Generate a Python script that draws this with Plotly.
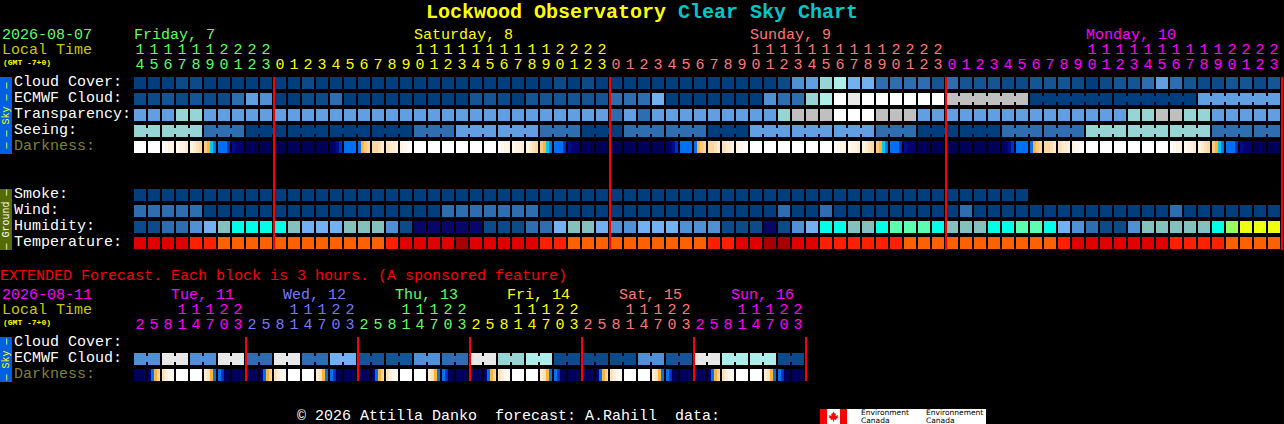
import plotly.graph_objects as go

W, H = 1284, 424
FONT = "Liberation Mono"

# colour classes used by every block row
PALETTE = ["#003E7E", "#0C4A8A", "#155596", "#2E6DB0", "#5090D5", "#629FE2", "#72B0F2",
           "#84C0BE", "#96D5D3", "#AEEEEA", "#C0C0C0", "#E8E8E8", "#FFFFFF", "#07076A",
           "#00FFE8", "#5CFFB0", "#98FF60", "#EEFF10", "#A80000", "#E00000", "#FF2000", "#FF6000"]
# darkness shades, one letter each
DARK_SHADES = {"W": "#FFFFFF", "a": "#FFF9F0", "b": "#FFF3E2", "c": "#FFEBD0", "d": "#FFE0B8",
               "e": "#FFD69E", "f": "#FFC878", "g": "#FFB23C", "C": "#00C8FF", "B": "#0070F0",
               "M": "#0030C0", "X": "#000C90", "n": "#000070", "o": "#000058"}

HOURS = [14, 15, 16, 17, 18, 19, 20, 21, 22, 23,
         0, 1, 2, 3, 4, 5, 6, 7, 8, 9, 10, 11, 12, 13, 14, 15, 16, 17, 18, 19, 20, 21, 22, 23,
         0, 1, 2, 3, 4, 5, 6, 7, 8, 9, 10, 11, 12, 13, 14, 15, 16, 17, 18, 19, 20, 21, 22, 23,
         0, 1, 2, 3, 4, 5, 6, 7, 8, 9, 10, 11, 12, 13, 14, 15, 16, 17, 18, 19, 20, 21, 22, 23]
DAY_NAMES = ["Friday, 7", "Saturday, 8", "Sunday, 9", "Monday, 10"]
DAY_COLOURS = ["#60FF60", "#FFFF00", "#FF7878", "#FF00FF"]
DAY_STARTS = [0, 20, 44, 68]
MIDNIGHTS = [10, 34, 58, 82]

CLOUD = [0, 0, 0, 1, 1, 0, 0, 0, 0, 0,
         0, 0, 1, 0, 0, 0, 0, 0, 0, 0,
         0, 0, 0, 0, 0, 0, 0, 0, 0, 0,
         1, 0, 1, 0, 0, 0, 0, 0, 0, 0,
         0, 0, 0, 0, 0, 0, 1, 4, 5, 8,
         9, 6, 6, 3, 3, 3, 3, 2, 3, 2,
         2, 2, 1, 1, 2, 2, 2, 1, 0, 1,
         2, 2, 3, 5, 3, 2, 1, 1, 2, 2,
         1, 2]
ECMWF = [1, 1, 2, 1, 2, 1, 1, 3, 5, 4,
         0, 0, 1, 1, 3, 0, 0, 0, 0, 0,
         0, 0, 0, 0, 2, 2, 1, 0, 2, 2,
         2, 2, 2, 2, 3, 3, 3, 6, 0, 0,
         0, 0, 0, 0, 0, 4, 3, 3, 8, 9,
         12, 11, 12, 12, 12, 12, 12, 12, 10, 10,
         10, 10, 10, 10, 0, 0, 0, 0, 0, 0,
         0, 0, 0, 0, 0, 0, 5, 5, 5, 5,
         5, 5]
TRANSPARENCY = [5, 5, 5, 8, 8, 5, 5, 5, 5, 5,
                5, 5, 5, 5, 5, 5, 5, 5, 5, 5,
                5, 5, 5, 5, 5, 5, 5, 5, 5, 5,
                5, 5, 5, 5, 3, 5, 3, 5, 5, 5,
                5, 5, 5, 5, 5, 5, 8, 10, 10, 10,
                12, 12, 12, 10, 10, 10, 5, 5, 5, 5,
                5, 5, 5, 5, 5, 5, 5, 5, 5, 5,
                5, 8, 8, 10, 10, 8, 8, 5, 5, 5,
                5, 5]
SEEING = [8, 8, 8, 8, 8, 3, 3, 3, 0, 0,
          0, 0, 0, 0, 0, 0, 0, 0, 0, 0,
          3, 3, 3, 5, 5, 5, 5, 5, 5, 3,
          3, 3, 0, 0, 0, 3, 3, 3, 3, 3,
          3, 0, 0, 0, 5, 5, 5, 5, 5, 5,
          5, 5, 5, 3, 3, 3, 0, 0, 0, 0,
          0, 0, 3, 3, 3, 3, 3, 3, 8, 8,
          8, 8, 8, 8, 8, 8, 8, 3, 3, 3,
          3, 3]
DARKNESS = ["WWWW", "WWWW", "Wabb", "abbc", "bcde", "fgCB", "BBBM", "Xnnn", "oooo", "oooo",
            "oooo", "oooo", "oooo", "oooo", "nnXM", "BBBB", "Bgfe", "eedc", "dccb", "baaW",
            "WWWW", "WWWW", "WWWW", "WWWW", "WWWW", "WWWW", "Wabb", "abbc", "bcde", "fgCB",
            "BBBM", "Xnnn", "oooo", "oooo", "oooo", "oooo", "oooo", "oooo", "nnXM", "BBBB",
            "Bgfe", "eedc", "dccb", "baaW", "WWWW", "WWWW", "WWWW", "WWWW", "WWWW", "WWWW",
            "Wabb", "abbc", "bcde", "fgCB", "BBBM", "Xnnn", "oooo", "oooo", "oooo", "oooo",
            "oooo", "oooo", "nnXM", "BBBB", "Bgfe", "eedc", "dccb", "baaW", "WWWW", "WWWW",
            "WWWW", "WWWW", "WWWW", "WWWW", "Wabb", "abbc", "bcde", "fgCB", "BBBM", "Xnnn",
            "oooo", "oooo"]
SMOKE = [0, 0, 0, 0, 0, 0, 0, 0, 0, 0,
         0, 0, 0, 0, 0, 0, 0, 0, 0, 0,
         0, 0, 0, 0, 0, 0, 0, 0, 0, 0,
         0, 0, 0, 0, 0, 0, 0, 0, 0, 0,
         0, 0, 0, 0, 0, 0, 0, 0, 0, 0,
         0, 0, 0, 0, 0, 0, 0, 0, 0, 0,
         0, 0, 0, 0, None, None, None, None, None, None,
         None, None, None, None, None, None, None, None, None, None,
         None, None]
WIND = [3, 3, 3, 3, 3, 0, 0, 0, 0, 0,
        0, 0, 0, 0, 0, 0, 0, 0, 0, 0,
        0, 0, 3, 3, 3, 3, 3, 3, 3, 0,
        0, 0, 0, 0, 0, 0, 0, 0, 0, 0,
        0, 0, 0, 0, 0, 0, 3, 0, 0, 3,
        0, 0, 0, 0, 0, 0, 0, 0, 0, 3,
        0, 0, 0, 0, 0, 0, 0, 0, 0, 0,
        0, 0, 0, 0, 3, 0, 0, 0, 0, 0,
        0, 0]
HUMIDITY = [1, 1, 3, 3, 4, 6, 7, 14, 14, 14,
            14, 7, 6, 6, 6, 7, 7, 7, 4, 1,
            13, 13, 13, 13, 13, 1, 1, 1, 3, 3,
            6, 7, 7, 6, 4, 4, 6, 6, 6, 4,
            4, 4, 1, 1, 1, 13, 1, 4, 6, 14,
            14, 7, 7, 14, 15, 15, 15, 14, 7, 7,
            7, 14, 14, 15, 15, 14, 6, 4, 3, 1,
            1, 4, 7, 7, 7, 7, 7, 14, 16, 17,
            17, 17]
TEMPERATURE = [19, 19, 19, 19, 20, 20, 21, 21, 21, 21,
               21, 21, 21, 21, 21, 21, 21, 21, 20, 19,
               19, 19, 19, 18, 19, 19, 19, 19, 19, 20,
               20, 21, 21, 21, 21, 21, 21, 21, 21, 21,
               21, 20, 20, 19, 19, 18, 18, 19, 19, 20,
               20, 20, 20, 20, 20, 21, 21, 21, 21, 21,
               21, 21, 21, 21, 21, 21, 20, 19, 19, 19,
               19, 19, 19, 19, 20, 20, 20, 20, 21, 21,
               21, 21]

SKY_LABELS = ["Cloud Cover:", "ECMWF Cloud:", "Transparency:", "Seeing:"]
GROUND_LABELS = ["Smoke:", "Wind:", "Humidity:", "Temperature:"]

# extended forecast, 3 hour blocks
EXT_HOURS = [2, 5, 8, 11, 14, 17, 20, 23] * 6
EXT_DAYS = ["Tue, 11", "Wed, 12", "Thu, 13", "Fri, 14", "Sat, 15", "Sun, 16"]
EXT_COLOURS = ["#FF00FF", "#7878FF", "#60FF60", "#FFFF00", "#FF7878", "#FF00FF"]
EXT_ECMWF = [4, 4, 11, 11, 4, 4, 11, 11,
             3, 3, 11, 11, 3, 3, 6, 6,
             2, 2, 2, 2, 4, 4, 3, 3,
             11, 11, 8, 8, 9, 9, 1, 1,
             1, 1, 1, 1, 4, 4, 2, 2,
             11, 11, 9, 9, 9, 9, 1, 1]
EXT_DARKNESS = ["oooo", "nBge", "dbaW", "WWWW", "WWWW", "cdgB", "BMoo", "oooo",
                "oooo", "nBge", "dbaW", "WWWW", "WWWW", "cdgB", "BMoo", "oooo",
                "oooo", "nBge", "dbaW", "WWWW", "WWWW", "cdgB", "BMoo", "oooo",
                "oooo", "nBge", "dbaW", "WWWW", "WWWW", "cdgB", "BMoo", "oooo",
                "oooo", "nBge", "dbaW", "WWWW", "WWWW", "cdgB", "BMoo", "oooo",
                "oooo", "nBge", "dbaW", "WWWW", "WWWW", "cdgB", "BMoo", "oooo"]

# palette + darkness shades share one colour scale
all_colours = PALETTE + list(DARK_SHADES.values())
shade_index = {k: len(PALETTE) + n for n, k in enumerate(DARK_SHADES)}
zmax = len(all_colours) - 1
scale = [[n / zmax, c] for n, c in enumerate(all_colours)]
PAD = 1 / 14  # half of the 2px gap between blocks, in column units


def blocks(rows, edges, xaxis="x"):
    return go.Heatmap(z=rows, x=list(range(len(rows[0]) + 1)), y=edges, xgap=2, ygap=4,
                      zmin=0, zmax=zmax, colorscale=scale, showscale=False,
                      hoverinfo="skip", xaxis=xaxis, yaxis="y")


def shaded(cells, top, xaxis="x"):
    # each cell is split in 4 slices with an empty slice after it for the gap
    xs, vals = [], []
    for i, cell in enumerate(cells):
        for k, ch in enumerate(cell):
            xs.append(i + PAD + k * 3 / 14)
            vals.append(shade_index[ch])
        xs.append(i + 13 / 14)
        vals.append(None)
    xs.append(len(cells) + PAD)
    return go.Heatmap(z=[vals], x=xs, y=[top, top + 12], zmin=0, zmax=zmax, colorscale=scale,
                      showscale=False, hoverinfo="skip", xaxis=xaxis, yaxis="y")


def bridges(values, sizes, centre, start=0, xaxis="x"):
    # narrow joins between blocks that belong to the same forecast period
    out = []
    segs = {}
    col = start
    for size in sizes:
        for c in range(col, col + size - 1):
            segs.setdefault(values[c], []).append(c)
        col += size
    for v, cols in segs.items():
        xs, ys = [], []
        for c in cols:
            xs += [c + 13 / 14, c + 1 + PAD, None]
            ys += [centre, centre, None]
        out.append(go.Scatter(x=xs, y=ys, mode="lines", line=dict(color=all_colours[v], width=6),
                              hoverinfo="skip", xaxis=xaxis, yaxis="y"))
    return out


def red_lines(cols, y0, y1, xaxis="x"):
    xs, ys = [], []
    for c in cols:
        xs += [c + PAD, c + PAD, None]
        ys += [y0, y1, None]
    return go.Scatter(x=xs, y=ys, mode="lines", line=dict(color="#FF0000", width=2), cliponaxis=False,
                      hoverinfo="skip", xaxis=xaxis, yaxis="y")


def digits(labels, colours, y, xaxis="x"):
    return go.Scatter(x=[i + 0.5 for i in range(len(labels))], y=[y] * len(labels), mode="text",
                      text=labels, textposition="middle center", cliponaxis=False,
                      textfont=dict(family=FONT, size=15, color=colours),
                      hoverinfo="skip", xaxis=xaxis, yaxis="y")


def label(text, px, y, color="#FFFFFF", size=15, font=FONT, **kw):
    return dict(text=text, x=px / W, xref="paper", y=y, yref="y", xanchor="left", yanchor="middle",
                showarrow=False, borderpad=0, borderwidth=0, font=dict(family=font, size=size, color=color), **kw)


def side_bar(y0, y1, fill):
    return dict(type="rect", xref="paper", yref="y", x0=0, x1=12 / W, y0=y0, y1=y1,
                fillcolor=fill, line_width=0, layer="below")


def paper_rect(x0, x1, y0, y1, fill):
    return dict(type="rect", xref="paper", yref="y", x0=x0 / W, x1=x1 / W, y0=y0, y1=y1,
                fillcolor=fill, line_width=0)


# day colour changes at midnight, not at the day label
hour_colours = [DAY_COLOURS[sum(1 for m in MIDNIGHTS[:3] if i >= m)] for i in range(len(HOURS))]

ext_colours = []
for c in EXT_COLOURS:
    ext_colours += [c] * 8

fig = go.Figure()
fig.add_trace(blocks([CLOUD, ECMWF, TRANSPARENCY, SEEING], [75, 91, 107, 123, 139]))
fig.add_trace(shaded(DARKNESS, 141))
fig.add_trace(blocks([SMOKE, WIND, HUMIDITY, TEMPERATURE], [187, 203, 219, 235, 251]))
for tr in bridges(SEEING, [2] + [3] * 26 + [2], 131):
    fig.add_trace(tr)
for tr in bridges(ECMWF, [6, 6, 6, 6], 99, start=58):
    fig.add_trace(tr)
fig.add_trace(red_lines(MIDNIGHTS, 77, 250))
fig.add_trace(digits([str(h // 10) if h >= 10 else "" for h in HOURS], hour_colours, 50))
fig.add_trace(digits([str(h % 10) for h in HOURS], hour_colours, 65))

fig.add_trace(blocks([EXT_ECMWF], [351, 367], xaxis="x2"))
fig.add_trace(shaded(EXT_DARKNESS, 369, xaxis="x2"))
for tr in bridges(EXT_ECMWF, [2] * 24, 359, xaxis="x2"):
    fig.add_trace(tr)
fig.add_trace(red_lines([8, 16, 24, 32, 40, 48], 337, 381, xaxis="x2"))
fig.add_trace(digits([str(h // 10) if h >= 10 else "" for h in EXT_HOURS], ext_colours, 310, xaxis="x2"))
fig.add_trace(digits([str(h % 10) for h in EXT_HOURS], ext_colours, 325, xaxis="x2"))

notes = [
    label('<b>Lockwood Observatory <span style="color:#00C8C8">Clear Sky Chart</span></b>', 426, 12, "#FFFF00", 20),
    label("2026-08-07", 2, 35, "#60FF60"),
    label("Local Time", 2, 50, "#C8C800"),
    label("<b>(GMT -7+0)</b>", 3, 62, "#FFFF00", 8),
    label("EXTENDED Forecast. Each block is 3 hours. (A sponsored feature)", 0, 276, "#FF0000"),
    label("2026-08-11", 2, 295, "#FF00FF"),
    label("Local Time", 2, 310, "#C8C800"),
    label("<b>(GMT -7+0)</b>", 3, 322, "#FFFF00", 8),
    label("\u00a9 2026 Attilla Danko  forecast: A.Rahill  data:", 297, 416, "#FFFFFF"),
    label("Cloud Cover:", 14, 342),
    label("ECMWF Cloud:", 14, 358),
    label("Darkness:", 14, 374, "#808030"),
    label("Darkness:", 14, 146, "#808030"),
]
for n, t in enumerate(SKY_LABELS):
    notes.append(label(t, 14, 82 + 16 * n))
for n, t in enumerate(GROUND_LABELS):
    notes.append(label(t, 14, 194 + 16 * n))
for name, col, start in zip(DAY_NAMES, DAY_COLOURS, DAY_STARTS):
    notes.append(label(name, 134 + 14 * start, 35, col))
for d, (name, col) in enumerate(zip(EXT_DAYS, EXT_COLOURS)):
    notes.append(label(name, 171 + 112 * d, 295, col))

# side bars
for text, y, col in [("\u2014 \u2014 Sky \u2014 \u2014", 115.5, "#FFFF00"), ("\u2014 Sky \u2014", 359.5, "#FFFF00"),
                     ("\u2014 Ground \u2014", 219.5, "#FFFFFF")]:
    notes.append(dict(text=text, x=6 / W, xref="paper", xanchor="center", y=y, yref="y", yanchor="middle",
                      textangle=-90, showarrow=False, borderpad=0, borderwidth=0,
                      font=dict(family=FONT, size=10, color=col)))
# logo text
for px, word in [(861, "Environment"), (926, "Environnement")]:
    notes.append(label(word, px, 412.2, "#000000", 7.5, "DejaVu Sans"))
    notes.append(label("Canada", px, 420.8, "#000000", 7.5, "DejaVu Sans"))

leaf = [(0, -5), (1.5, -2.5), (2.5, -3), (2, -0.5), (4.5, -1.5), (4, 0), (5, 0.5), (2.5, 2.5), (2.8, 3.5),
        (0.5, 3), (0.5, 5), (-0.5, 5), (-0.5, 3), (-2.8, 3.5), (-2.5, 2.5), (-5, 0.5), (-4, 0), (-4.5, -1.5),
        (-2, -0.5), (-2.5, -3), (-1.5, -2.5)]
leaf_path = "M " + " L ".join(f"{(833.5 + a) / W} {416.5 + b}" for a, b in leaf) + " Z"

shapes = [
    side_bar(77, 154, "#0060E0"),
    side_bar(189, 250, "#556B00"),
    side_bar(337, 382, "#0060E0"),
    paper_rect(820, 986, 409, 424, "#FFFFFF"),
    paper_rect(820, 827, 409, 424, "#FF0000"),
    paper_rect(840, 847, 409, 424, "#FF0000"),
    dict(type="path", xref="paper", yref="y", path=leaf_path, fillcolor="#FF0000", line_width=0),
]

# axes run a little past the last column so the closing red line stays inside
hidden = dict(visible=False, showgrid=False, zeroline=False)
fig.update_layout(
    width=W, height=H, margin=dict(l=0, r=0, t=0, b=0),
    paper_bgcolor="#000000", plot_bgcolor="rgba(0,0,0,0)",
    showlegend=False, hovermode=False,
    xaxis=dict(range=[0, (W - 133) / 14], domain=[133 / W, 1], anchor="y", **hidden),
    xaxis2=dict(range=[0, 49], domain=[133 / W, 819 / W], anchor="y", **hidden),
    yaxis=dict(range=[H, 0], domain=[0, 1], anchor="x", **hidden),
    annotations=notes, shapes=shapes,
)

fig.write_html("out.html", config={"displayModeBar": False},
               post_script="document.body.style.margin='0';document.body.style.background='#000';")
